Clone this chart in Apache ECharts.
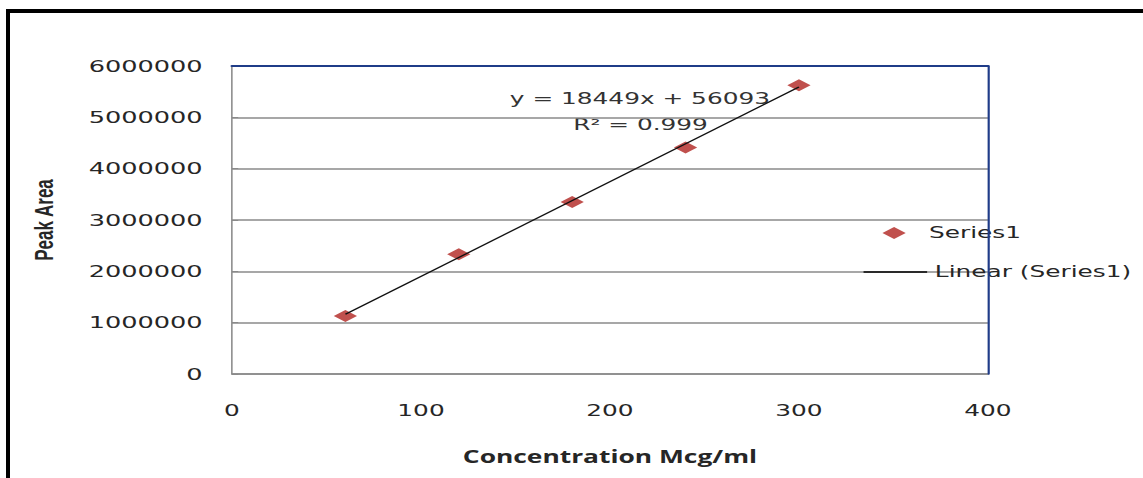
<!DOCTYPE html>
<html>
<head>
<meta charset="utf-8">
<title>Peak Area vs Concentration</title>
<script src="https://cdn.jsdelivr.net/npm/echarts@6/dist/echarts.min.js"></script>
<style>
    html, body { margin: 0; padding: 0; background: #fff; overflow: hidden; }
    /* the source picture is stretched sideways, so the chart is drawn narrow and widened */
    #chart {
        position: absolute; left: 0; top: 0;
        width: 737px; height: 478px;
        transform: scaleX(1.5509); transform-origin: 0 0;
    }
    .frame {
        position: absolute; left: 6px; top: 9px;
        width: 1200px; height: 600px;
        border-left: 4px solid #000; border-top: 4px solid #000;
        pointer-events: none;
    }
</style>
</head>
<body>
<div id="chart"></div>
<div class="frame"></div>
<script>
    // concentrations (Mcg/ml) and measured peak areas
    var concentration = [60, 120, 180, 240, 300];
    var peakArea = [1129000, 2335000, 3353000, 4411000, 5624000];
    // trend line end points, y = 18449x + 56093
    var trendX = [60, 300];
    var trendY = [1163033, 5590793];
    var equationText = 'y = 18449x + 56093';
    var r2Text = 'R² = 0.999';

    var gray = '#8a8a8a';
    var navy = '#1f3c88';
    var textColor = '#262626';

    var chart = echarts.init(document.getElementById('chart'), null, { renderer: 'svg' });

    var points = concentration.map(function (c, i) { return [c, peakArea[i]]; });
    var trend = trendX.map(function (c, i) { return [c, trendY[i]]; });

    chart.setOption({
        animation: false,
        backgroundColor: '#fff',
        textStyle: { fontFamily: 'DejaVu Sans' },
        grid: { left: 149.6, right: 100, top: 66, bottom: 104 },
        xAxis: [{
            type: 'value',
            min: 0, max: 400, interval: 100,
            name: 'Concentration Mcg/ml',
            nameLocation: 'middle',
            nameGap: 74,
            nameTextStyle: { fontFamily: 'Open Sans', fontWeight: 'bold', fontSize: 17, color: textColor },
            axisLine: { onZero: false, lineStyle: { color: gray, width: 1.5 } },
            axisTick: { show: false },
            axisLabel: { margin: 29, fontSize: 16, color: textColor },
            splitLine: { show: false }
        }, {
            // blue top edge of the plot
            type: 'value', position: 'top',
            min: 0, max: 400, interval: 100,
            axisLine: { onZero: false, lineStyle: { color: navy, width: 2 } },
            axisTick: { show: false },
            axisLabel: { show: false },
            splitLine: { show: false },
            z: 5
        }],
        yAxis: [{
            type: 'value',
            min: 0, max: 6000000, interval: 1000000,
            name: 'Peak Area',
            nameLocation: 'middle',
            nameGap: 113,
            nameTextStyle: { fontFamily: 'Liberation Sans', fontWeight: 'bold', fontSize: 17, color: textColor },
            axisLine: { show: true, onZero: false, lineStyle: { color: gray, width: 1 } },
            axisTick: { show: true, inside: true, length: 4, lineStyle: { color: gray } },
            axisLabel: {
                margin: 19, fontSize: 16.5, color: textColor,
                formatter: function (v) { return String(v); }
            },
            splitLine: { show: true, lineStyle: { color: gray, width: 1.5 } }
        }, {
            // blue right edge of the plot
            type: 'value', position: 'right',
            min: 0, max: 6000000, interval: 1000000,
            axisLine: { show: true, onZero: false, lineStyle: { color: navy, width: 1.4 } },
            axisTick: { show: false },
            axisLabel: { show: false },
            splitLine: { show: false },
            z: 5
        }],
        legend: [{
            data: ['Series1'],
            left: 569, top: 225, padding: 0,
            itemWidth: 15, itemHeight: 12,
            symbolKeepAspect: false,
            textStyle: { fontSize: 16, color: textColor, padding: [0, 0, 0, 10] }
        }, {
            data: ['Linear (Series1)'],
            left: 556, top: 264, padding: 0,
            itemWidth: 41, itemHeight: 14,
            itemStyle: { opacity: 0 },
            lineStyle: { color: '#000', width: 1.6 },
            textStyle: { fontSize: 16, color: textColor }
        }],
        graphic: [{
            type: 'text', x: 412.6, y: 99,
            style: { text: equationText, font: '16px "DejaVu Sans"', fill: '#333', align: 'center', verticalAlign: 'middle' }
        }, {
            type: 'text', x: 413, y: 125,
            style: { text: r2Text, font: '16px "DejaVu Sans"', fill: '#333', align: 'center', verticalAlign: 'middle' }
        }],
        series: [{
            name: 'Series1',
            type: 'scatter',
            symbol: 'diamond',
            symbolSize: [15, 12],
            itemStyle: { color: '#c0504d', opacity: 1 },
            data: points,
            z: 2
        }, {
            name: 'Linear (Series1)',
            type: 'line',
            symbol: 'none',
            color: '#111',
            lineStyle: { color: '#111', width: 1.2 },
            data: trend,
            z: 3
        }]
    });
</script>
</body>
</html>
